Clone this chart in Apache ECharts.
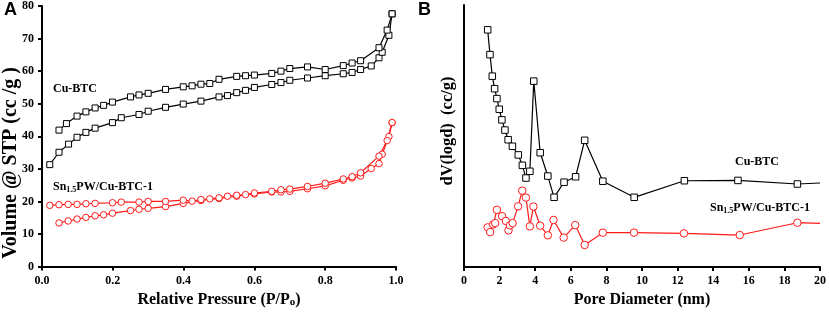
<!DOCTYPE html>
<html>
<head>
<meta charset="utf-8">
<script src="https://cdn.jsdelivr.net/npm/echarts@6/dist/echarts.min.js"></script>
<style>
  html, body { margin: 0; padding: 0; background: #fff; }
  #chart { width: 829px; height: 313px; }
</style>
</head>
<body>
<div id="chart"></div>
<script>
// panel A: N2 isotherms
const cuAdsP = [0.022, 0.048, 0.075, 0.099, 0.124, 0.15, 0.199, 0.224, 0.274, 0.3, 0.349, 0.399, 0.449, 0.5, 0.524, 0.55, 0.575, 0.6, 0.649, 0.675, 0.7, 0.75, 0.8, 0.851, 0.876, 0.9, 0.93, 0.952, 0.961, 0.98, 0.989];
const cuAdsV = [31.3, 35.1, 37.6, 39.7, 41.2, 42.5, 44.2, 45.7, 46.7, 47.7, 48.9, 49.9, 50.8, 52.1, 52.5, 53.4, 54.1, 55.0, 55.9, 56.5, 57.2, 57.9, 58.6, 59.2, 59.6, 60.5, 61.6, 64.1, 65.8, 71.0, 77.6];
const cuDesP = [0.048, 0.069, 0.099, 0.124, 0.15, 0.174, 0.199, 0.25, 0.274, 0.3, 0.349, 0.399, 0.424, 0.449, 0.474, 0.5, 0.55, 0.575, 0.6, 0.649, 0.675, 0.7, 0.75, 0.8, 0.851, 0.876, 0.9, 0.952, 0.975, 0.989];
const cuDesV = [41.9, 43.9, 46.2, 47.5, 48.7, 49.5, 50.5, 52.1, 52.7, 53.2, 54.4, 55.2, 55.5, 56.0, 56.2, 57.5, 58.4, 58.6, 58.8, 59.3, 60.0, 60.8, 61.3, 60.5, 61.7, 62.5, 63.2, 67.2, 72.6, 77.6];
const snAdsP = [0.048, 0.074, 0.099, 0.124, 0.15, 0.174, 0.199, 0.25, 0.274, 0.3, 0.349, 0.399, 0.449, 0.5, 0.55, 0.6, 0.649, 0.675, 0.7, 0.75, 0.8, 0.851, 0.876, 0.9, 0.93, 0.952, 0.961, 0.98, 0.989];
const snAdsV = [13.4, 14.0, 14.6, 15.1, 15.6, 15.9, 16.4, 17.2, 17.6, 17.9, 18.4, 19.4, 20.3, 20.9, 21.6, 22.3, 22.9, 22.9, 23.1, 23.9, 24.8, 26.5, 27.2, 27.8, 30.1, 31.6, 34.5, 39.9, 44.2];
const snDesP = [0.022, 0.048, 0.074, 0.099, 0.124, 0.15, 0.199, 0.224, 0.274, 0.3, 0.349, 0.399, 0.424, 0.449, 0.474, 0.5, 0.524, 0.55, 0.575, 0.6, 0.649, 0.675, 0.7, 0.75, 0.8, 0.851, 0.876, 0.9, 0.952, 0.975, 0.989];
const snDesV = [18.8, 19.0, 19.1, 19.1, 19.3, 19.4, 19.6, 19.8, 19.8, 20.0, 20.0, 20.4, 20.1, 20.6, 20.8, 21.1, 21.6, 21.9, 22.1, 22.6, 23.1, 23.6, 23.8, 24.6, 25.6, 26.9, 27.6, 28.8, 33.9, 38.7, 44.2];

// panel B: pore size distribution (arbitrary units, axis has no labels)
const cuPoreD = [1.33, 1.46, 1.59, 1.72, 1.85, 1.98, 2.13, 2.30, 2.48, 2.72, 3.05, 3.28, 3.48, 3.70, 3.92, 4.28, 4.71, 5.06, 5.62, 6.27, 6.78, 7.80, 9.56, 12.38, 15.39, 18.73, 20.0];
const cuDV = [239, 214, 192.3, 179.7, 169.7, 159, 148.3, 138, 128.3, 121.7, 113, 102.5, 89.7, 96.5, 187.3, 115.2, 91.7, 70.3, 85.5, 91, 127.7, 86.5, 70.3, 87, 87.3, 83.7, 84.7];
const snPoreD = [1.33, 1.47, 1.64, 1.75, 1.85, 2.14, 2.35, 2.50, 2.58, 2.73, 3.04, 3.27, 3.48, 3.70, 3.90, 4.28, 4.71, 5.03, 5.60, 6.25, 6.78, 7.80, 9.55, 12.35, 15.49, 18.73, 20.0];
const snDV = [40, 35.3, 43, 44.3, 57.7, 51.3, 46.5, 37, 42, 44.3, 61.2, 77, 70, 41, 61, 41.7, 32, 47.5, 29.7, 42.3, 22.3, 34.7, 34.7, 34, 32.3, 44.7, 44];

const xTicksA = [0, 0.2, 0.4, 0.6, 0.8, 1.0];

const zip = (xs, ys) => xs.map((x, i) => [x, ys[i]]);

const serif = "Liberation Serif";
const RED = "#ff1a1a";

const axisCommon = {
  axisLine: { lineStyle: { color: "#000", width: 2 } },
  axisTick: { inside: false, length: 4, lineStyle: { color: "#000", width: 2 } },
  axisLabel: { color: "#000", fontFamily: serif, fontWeight: "bold", fontSize: 12, margin: 8 },
  splitLine: { show: false },
  nameTextStyle: { color: "#000", fontFamily: serif, fontWeight: "bold", fontSize: 16 },
};

function line(name, xi, data, color, symbol, size, noLastMark) {
  return {
    name,
    type: "line",
    xAxisIndex: xi,
    yAxisIndex: xi,
    data,
    symbol: (v, p) => (noLastMark && p.dataIndex === data.length - 1 ? "none" : symbol),
    symbolSize: size,
    showAllSymbol: true,
    lineStyle: { color, width: 1.2 },
    itemStyle: { color: "#fff", borderColor: color, borderWidth: 1 },
    animation: false,
    z: 3,
  };
}

const subRich = { sub: { fontFamily: serif, fontWeight: "bold", fontSize: 8, fill: "#000", verticalAlign: "bottom", padding: [5, 0, 0, 0] } };

const chart = echarts.init(document.getElementById("chart"));
chart.setOption({
  backgroundColor: "#fff",
  animation: false,
  grid: [
    { left: 42, right: 433, top: 6, bottom: 41 },
    { left: 464, right: 8, top: 5, bottom: 44 },
  ],
  xAxis: [
    {
      ...axisCommon,
      gridIndex: 0,
      type: "value",
      min: 0,
      max: 1,
      interval: 0.2,
      axisLabel: { ...axisCommon.axisLabel, formatter: (v) => (xTicksA.includes(+v.toFixed(1)) ? v.toFixed(1) : "") },
      name: "Relative Pressure (P/P{sub|o})",
      nameLocation: "middle",
      nameGap: 20,
      nameTextStyle: { ...axisCommon.nameTextStyle, rich: { sub: { fontFamily: serif, fontWeight: "bold", fontSize: 11, verticalAlign: "bottom", padding: [6, 0, 0, 0] } } },
    },
    {
      ...axisCommon,
      gridIndex: 1,
      type: "value",
      min: 0,
      max: 20,
      interval: 2,
      name: "Pore Diameter (nm)",
      nameLocation: "middle",
      nameGap: 19,
    },
  ],
  yAxis: [
    {
      ...axisCommon,
      gridIndex: 0,
      type: "value",
      min: 0,
      max: 80,
      interval: 10,
    },
    {
      ...axisCommon,
      gridIndex: 1,
      type: "value",
      min: 0,
      max: 264,
      axisTick: { show: false },
      axisLabel: { show: false },
    },
  ],
  series: [
    line("Cu-BTC ads", 0, zip(cuAdsP, cuAdsV), "#000", "rect", 6),
    line("Cu-BTC des", 0, zip(cuDesP, cuDesV), "#000", "rect", 6),
    line("Sn ads", 0, zip(snAdsP, snAdsV), RED, "circle", 6.5),
    line("Sn des", 0, zip(snDesP, snDesV), RED, "circle", 6.5),
    line("Cu-BTC PSD", 1, zip(cuPoreD, cuDV), "#000", "rect", 6.5, true),
    line("Sn PSD", 1, zip(snPoreD, snDV), RED, "circle", 7.5, true),
  ],
  graphic: [
    { type: "text", left: 4, top: 1, style: { text: "A", fill: "#000", font: "bold 18px 'Liberation Sans'" } },
    { type: "text", left: 418, top: 1, style: { text: "B", fill: "#000", font: "bold 18px 'Liberation Sans'" } },
    // rotated y-axis titles
    { type: "text", x: 11, y: 163, rotation: Math.PI / 2, style: { text: "Volume @ STP (cc /g )", fill: "#000", font: `bold 20px '${serif}'`, align: "center", verticalAlign: "middle" } },
    { type: "text", x: 448, y: 131, rotation: Math.PI / 2, style: { text: "dV(logd)  (cc/g)", fill: "#000", font: `bold 16.5px '${serif}'`, align: "center", verticalAlign: "middle" } },
    { type: "text", left: 53, top: 83, style: { text: "Cu-BTC", fill: "#000", font: `bold 12px '${serif}'` } },
    { type: "text", left: 53, top: 181, style: { text: "Sn{sub|1.5}PW/Cu-BTC-1", fill: "#000", font: `bold 12px '${serif}'`, rich: subRich } },
    { type: "text", left: 735, top: 156, style: { text: "Cu-BTC", fill: "#000", font: `bold 12px '${serif}'` } },
    { type: "text", left: 710, top: 202, style: { text: "Sn{sub|1.5}PW/Cu-BTC-1", fill: "#000", font: `bold 12px '${serif}'`, rich: subRich } },
  ],
});
</script>
</body>
</html>
